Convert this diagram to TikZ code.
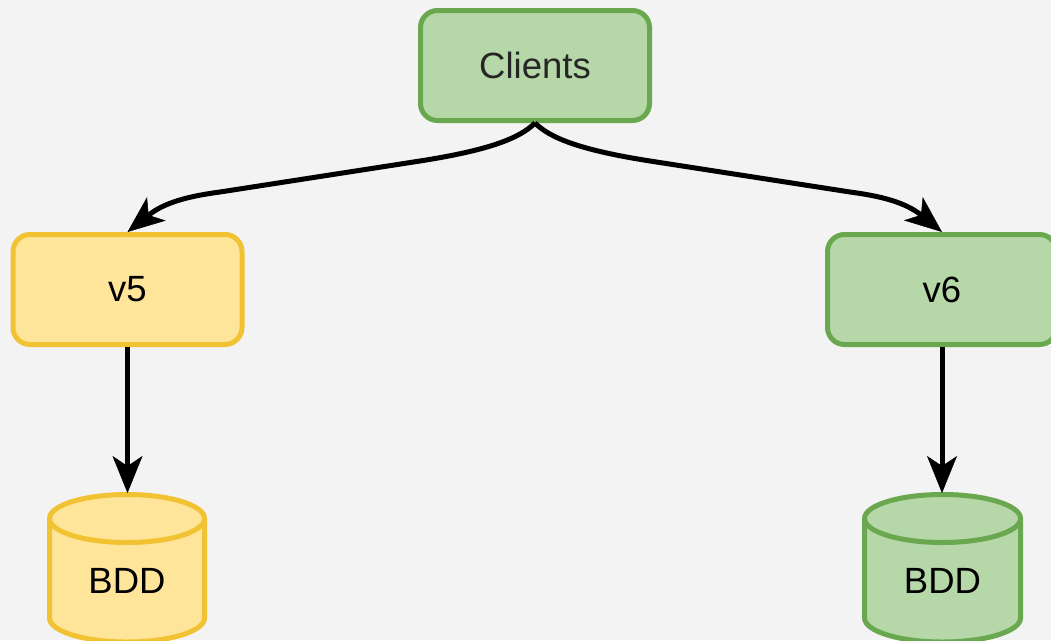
\documentclass[tikz,border=0pt]{standalone}
\usepackage{fontspec}
\setmainfont{Liberation Sans}
\usetikzlibrary{arrows.meta}
\definecolor{bg}{HTML}{F3F3F3}
\definecolor{gfill}{HTML}{B6D7A8}
\definecolor{gline}{HTML}{6AA84F}
\definecolor{yfill}{HTML}{FFE599}
\definecolor{yline}{HTML}{F1C232}
\definecolor{txtdark}{HTML}{262626}
\tikzset{
  conntip/.tip={Stealth[length=37pt,width=30pt,inset=10pt,fill=black,line width=0.5pt]}
}
\begin{document}
\begin{tikzpicture}[x=1pt,y=-1pt,
  box/.style={rounded corners=17pt, line width=5pt, minimum width=229pt,
    minimum height=110pt, inner sep=0pt, font=\fontsize{36.5}{43}\selectfont},
  greenbox/.style={box, draw=gline, fill=gfill},
  yellowbox/.style={box, draw=yline, fill=yfill},
  conn/.style={line width=5pt, draw=black, -conntip},
  cyl/.style={line width=5pt, line join=round},
  lbl/.style={inner sep=0pt, font=\fontsize{36.5}{43}\selectfont}]
\useasboundingbox (0,0) rectangle (1051,640);
\fill[bg] (0,0) rectangle (1051,640);

% boxes
\node[greenbox, text=txtdark] (clients) at (535,65.5) {Clients};
\node[yellowbox] (v5) at (127.5,289.5) {v5};
\node[greenbox] (v6) at (942,289.5) {v6};

% left cylinder
\filldraw[cyl, draw=yline, fill=yfill]
  (49.5,518.5) -- (49.5,618)
  arc[start angle=180, end angle=360, x radius=77.5pt, y radius=24pt]
  -- (204.5,518.5)
  arc[start angle=0, end angle=180, x radius=77.5pt, y radius=24pt] -- cycle;
\draw[cyl, draw=yline] (49.5,518.5)
  arc[start angle=180, end angle=360, x radius=77.5pt, y radius=24pt];
\node[lbl] (db5) at (127,580.5) {BDD};
\coordinate (db5top) at (127.5,493);

% right cylinder
\filldraw[cyl, draw=gline, fill=gfill]
  (864.5,518.5) -- (864.5,618)
  arc[start angle=180, end angle=360, x radius=78pt, y radius=24pt]
  -- (1020.5,518.5)
  arc[start angle=0, end angle=180, x radius=78pt, y radius=24pt] -- cycle;
\draw[cyl, draw=gline] (864.5,518.5)
  arc[start angle=180, end angle=360, x radius=78pt, y radius=24pt];
\node[lbl] (db6) at (942.5,580.5) {BDD};
\coordinate (db6top) at (942,493);

% connectors
\draw[conn] (clients.south) .. controls (520,138) and (490,150) .. (420,161)
  -- (220,192) .. controls (190,196) and (165,202) .. (v5.north);
\draw[conn] (clients.south) .. controls (550,138) and (580,150) .. (650,161)
  -- (850,192) .. controls (880,196) and (905,202) .. (v6.north);
\draw[conn] (v5.south) -- (db5top);
\draw[conn] (v6.south) -- (db6top);
\end{tikzpicture}
\end{document}
